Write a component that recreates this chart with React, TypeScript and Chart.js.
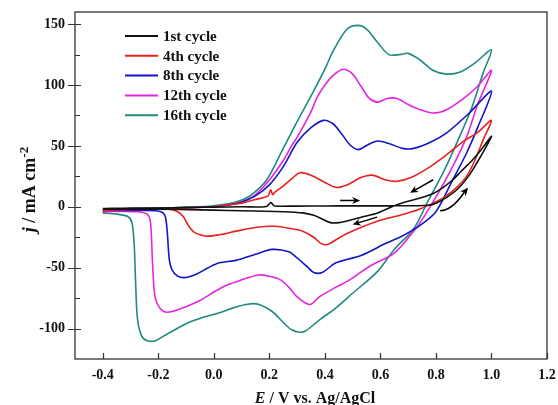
import { useEffect, useRef } from "react";
import { Chart, registerables } from "chart.js";
Chart.register(...registerables);

// Potential E (V vs. Ag/AgCl) and current density j (mA cm^-2); forward scan then reverse scan
const cycle1E = [-0.40, -0.30, -0.20, -0.10, 0.00, 0.10, 0.19, 0.205, 0.212, 0.22, 0.30, 0.40, 0.50, 0.60, 0.70, 0.77, 0.80, 0.84, 0.88, 0.92, 0.95, 0.98, 1.00,
  0.96, 0.93, 0.89, 0.86, 0.82, 0.79, 0.74, 0.69, 0.645, 0.59, 0.54, 0.49, 0.45, 0.42, 0.39, 0.36, 0.32, 0.25, 0.15, 0.05, -0.05, -0.20, -0.40];
const cycle1J = [-1.5, -1, -1, -0.5, -0.3, 0, 0.3, 3.5, 2, 0.6, 0.6, 0.7, 0.8, 0.8, 0.9, 1.3, 3, 8, 15, 26, 37, 49, 58,
  46, 38, 29, 22, 15, 11, 7, 4, 0.5, -5, -8, -11, -13, -13, -10, -7, -5, -4, -3.5, -3, -2.5, -2, -2];

const cycle4E = [-0.40, -0.30, -0.20, -0.10, 0.00, 0.05, 0.10, 0.15, 0.195, 0.205, 0.212, 0.22, 0.25, 0.28, 0.31, 0.35, 0.40, 0.44, 0.48, 0.53, 0.57, 0.62, 0.66, 0.71, 0.78, 0.84, 0.90, 0.95, 1.00,
  0.97, 0.94, 0.91, 0.87, 0.83, 0.79, 0.74, 0.67, 0.60, 0.54, 0.48, 0.44, 0.41, 0.385, 0.36, 0.32, 0.28, 0.22, 0.15, 0.08, 0.02, -0.03, -0.07, -0.09, -0.11, -0.13, -0.16, -0.25, -0.40];
const cycle4J = [-3, -2, -1.5, -1, 0, 1.5, 3, 6, 9, 14, 10, 12, 17, 23, 28, 26, 20, 16, 18, 24, 26, 22, 21, 24, 33, 43, 54, 61, 71,
  55, 38, 25, 15, 8, 3, -2, -7, -11, -16, -22, -27, -31, -30, -25, -20, -18, -16, -17, -20, -23, -24, -21, -16, -8, -4, -2, -2, -3];

const cycle8E = [-0.40, -0.30, -0.15, 0.00, 0.05, 0.10, 0.15, 0.20, 0.25, 0.30, 0.35, 0.395, 0.43, 0.46, 0.49, 0.52, 0.555, 0.59, 0.63, 0.68, 0.72, 0.78, 0.84, 0.92, 1.00,
  0.95, 0.91, 0.86, 0.80, 0.75, 0.71, 0.67, 0.62, 0.53, 0.44, 0.39, 0.36, 0.34, 0.30, 0.27, 0.21, 0.15, 0.08, 0.02, -0.02, -0.06, -0.10, -0.13, -0.15, -0.16, -0.168, -0.175, -0.19, -0.25, -0.40];
const cycle8J = [-3, -2, -1, 0, 1.5, 4, 9, 18, 33, 53, 65, 71, 68, 60, 51, 47, 51, 54, 52, 48, 48, 53, 61, 77, 95,
  65, 44, 22, -4, -14, -20, -25, -30, -40, -46, -54, -54, -50, -42, -37, -35, -39, -44, -46, -50, -55, -58, -57, -52, -44, -20, -8, -4, -3, -3];

const cycle12E = [-0.40, -0.30, -0.15, 0.00, 0.05, 0.10, 0.15, 0.20, 0.25, 0.28, 0.30, 0.35, 0.37, 0.40, 0.43, 0.466, 0.50, 0.53, 0.56, 0.59, 0.625, 0.66, 0.70, 0.74, 0.79, 0.84, 0.90, 0.95, 1.00,
  0.95, 0.91, 0.86, 0.81, 0.76, 0.72, 0.65, 0.56, 0.49, 0.44, 0.38, 0.35, 0.33, 0.30, 0.27, 0.24, 0.20, 0.16, 0.10, 0.05, 0.00, -0.05, -0.10, -0.15, -0.18, -0.205, -0.215, -0.222, -0.228, -0.24, -0.28, -0.40];
const cycle12J = [-4, -2, -1, 0, 1.5, 4, 10, 22, 38, 50, 57, 78, 89, 100, 108, 113, 109, 99, 89, 86, 89, 89, 84, 80, 77, 80, 89, 99, 112,
  84, 57, 33, 12, -7, -20, -38, -49, -60, -66, -74, -80, -79, -74, -66, -60, -57, -56, -60, -64, -70, -77, -82, -86, -86, -79, -68, -40, -13, -6, -4, -4];

const cycle16E = [-0.40, -0.35, -0.20, -0.05, 0.02, 0.08, 0.13, 0.19, 0.25, 0.30, 0.35, 0.40, 0.43, 0.48, 0.52, 0.55, 0.59, 0.63, 0.67, 0.70, 0.74, 0.79, 0.84, 0.89, 0.94, 1.00,
  0.97, 0.93, 0.88, 0.83, 0.77, 0.72, 0.65, 0.59, 0.50, 0.44, 0.38, 0.33, 0.31, 0.28, 0.25, 0.21, 0.16, 0.12, 0.07, 0.02, -0.04, -0.10, -0.14, -0.18, -0.21, -0.24, -0.26, -0.275, -0.282, -0.287, -0.295, -0.31, -0.35, -0.40];
const cycle16J = [-4, -2, -1, 0, 1.5, 4, 9, 22, 48, 70, 91, 113, 128, 146, 149, 146, 135, 125, 125, 126, 121, 112, 109, 111, 118, 129,
  110, 82, 55, 30, 4, -18, -35, -53, -71, -83, -93, -102, -103, -101, -95, -86, -80, -80, -83, -87, -91, -96, -101, -106, -110, -110, -106, -92, -60, -30, -13, -8, -6, -5];

const cycleLabels = ["1st cycle", "4th cycle", "8th cycle", "12th cycle", "16th cycle"];
const cycleColors = ["#111111", "#e8211d", "#1515c8", "#e526e0", "#1f8a80"];
const cycleE = [cycle1E, cycle4E, cycle8E, cycle12E, cycle16E];
const cycleJ = [cycle1J, cycle4J, cycle8J, cycle12J, cycle16J];

const xTickValues = [-0.4, -0.2, 0.0, 0.2, 0.4, 0.6, 0.8, 1.0, 1.2];
const yTickValues = [-100, -50, 0, 50, 100, 150];
const yMinorTickValues = [-75, -25, 25, 75, 125];

// scan-direction arrows (E, j): tail ... head
const arrow1E = [0.455, 0.527];
const arrow1J = [5.2, 5.2];
const arrow2E = [0.588, 0.50];
const arrow2J = [-8.5, -14.5];
const arrow3E = [0.79, 0.707];
const arrow3J = [22.2, 11.5];
const arrow4E = [0.815, 0.862, 0.916];
const arrow4J = [-3.3, 1.6, 15.6];
const arrowsE = [arrow1E, arrow2E, arrow3E, arrow4E];
const arrowsJ = [arrow1J, arrow2J, arrow3J, arrow4J];

const SERIF = "'Liberation Serif', 'Times New Roman', serif";

const noPad = (s: any) => {
  s.paddingTop = 0;
  s.paddingBottom = 0;
  s.paddingLeft = 0;
  s.paddingRight = 0;
};

const decorPlugin = {
  id: "decor",
  afterDraw(chart: any) {
    const { ctx, chartArea: a, scales } = chart;
    const x = scales.x;
    const y = scales.y;
    ctx.save();
    // frame
    ctx.strokeStyle = "#333";
    ctx.lineWidth = 1.3;
    ctx.strokeRect(a.left, a.top, a.right - a.left, a.bottom - a.top);
    // ticks
    ctx.lineWidth = 1.2;
    ctx.beginPath();
    for (const v of yTickValues) {
      const py = Math.round(y.getPixelForValue(v)) + 0.5;
      ctx.moveTo(a.left - 7, py);
      ctx.lineTo(a.left + 6, py);
    }
    for (const v of yMinorTickValues) {
      const py = Math.round(y.getPixelForValue(v)) + 0.5;
      ctx.moveTo(a.left, py);
      ctx.lineTo(a.left + 5, py);
    }
    for (const v of xTickValues) {
      const px = Math.round(x.getPixelForValue(v)) + 0.5;
      ctx.moveTo(px, a.bottom);
      ctx.lineTo(px, a.bottom - 6);
    }
    ctx.stroke();

    // arrows
    ctx.strokeStyle = "#000";
    ctx.fillStyle = "#000";
    ctx.lineWidth = 1.5;
    for (let i = 0; i < arrowsE.length; i++) {
      const pts = arrowsE[i].map((e, k) => [x.getPixelForValue(e), y.getPixelForValue(arrowsJ[i][k])]);
      const head = pts[pts.length - 1];
      const prev = pts[pts.length - 2];
      const ang = Math.atan2(head[1] - prev[1], head[0] - prev[0]);
      const hl = 8, hw = 3.6;
      const bx = head[0] - Math.cos(ang) * hl * 0.7;
      const by = head[1] - Math.sin(ang) * hl * 0.7;
      ctx.beginPath();
      ctx.moveTo(pts[0][0], pts[0][1]);
      if (pts.length === 3) {
        ctx.quadraticCurveTo(2 * pts[1][0] - (pts[0][0] + pts[2][0]) / 2, 2 * pts[1][1] - (pts[0][1] + pts[2][1]) / 2, bx, by);
      } else {
        ctx.lineTo(bx, by);
      }
      ctx.stroke();
      ctx.beginPath();
      ctx.moveTo(head[0], head[1]);
      ctx.lineTo(head[0] - Math.cos(ang) * hl + Math.sin(ang) * hw, head[1] - Math.sin(ang) * hl - Math.cos(ang) * hw);
      ctx.lineTo(head[0] - Math.cos(ang) * hl * 0.7, head[1] - Math.sin(ang) * hl * 0.7);
      ctx.lineTo(head[0] - Math.cos(ang) * hl - Math.sin(ang) * hw, head[1] - Math.sin(ang) * hl + Math.cos(ang) * hw);
      ctx.closePath();
      ctx.fill();
    }

    // legend
    ctx.font = `bold 15px ${SERIF}`;
    ctx.textBaseline = "middle";
    ctx.textAlign = "left";
    chart.data.datasets.forEach((ds: any, i: number) => {
      const ly = a.top + 24 + i * 19.8;
      ctx.strokeStyle = ds.borderColor;
      ctx.lineWidth = 2;
      ctx.beginPath();
      ctx.moveTo(a.left + 50, ly);
      ctx.lineTo(a.left + 83, ly);
      ctx.stroke();
      ctx.fillStyle = "#111";
      ctx.fillText(ds.label, a.left + 88, ly + 1);
    });

    // x title
    ctx.fillStyle = "#111";
    ctx.textBaseline = "alphabetic";
    const xParts: [string, string][] = [["E", `italic bold 16px ${SERIF}`], [" / V vs. Ag/AgCl", `bold 16px ${SERIF}`]];
    let tw = 0;
    for (const [t, f] of xParts) { ctx.font = f; tw += ctx.measureText(t).width; }
    let cx = (a.left + a.right) / 2 + 4 - tw / 2;
    for (const [t, f] of xParts) { ctx.font = f; ctx.fillText(t, cx, 403); cx += ctx.measureText(t).width; }

    // y title (rotated)
    ctx.save();
    ctx.translate(35, (a.top + a.bottom) / 2 + 4);
    ctx.rotate(-Math.PI / 2);
    const yParts: [string, string, number][] = [
      ["j", `italic bold 18px ${SERIF}`, 0],
      [" / mA cm", `bold 18px ${SERIF}`, 0],
      ["-2", `bold 13px ${SERIF}`, -7],
    ];
    tw = 0;
    for (const [t, f] of yParts) { ctx.font = f; tw += ctx.measureText(t).width; }
    let cy = -tw / 2;
    for (const [t, f, off] of yParts) { ctx.font = f; ctx.fillText(t, cy, off); cy += ctx.measureText(t).width; }
    ctx.restore();

    ctx.restore();
  },
};

export default function App() {
  const ref = useRef<HTMLCanvasElement | null>(null);
  useEffect(() => {
    if (!ref.current) return;
    const chart = new Chart(ref.current, {
      type: "scatter",
      data: {
        datasets: cycleLabels.map((label, i) => ({
          label,
          data: cycleE[i].map((e, k) => ({ x: e, y: cycleJ[i][k] })),
          borderColor: cycleColors[i],
          backgroundColor: cycleColors[i],
          showLine: true,
          pointRadius: 0,
          borderWidth: 1.6,
          tension: 0.3,
          borderJoinStyle: "round",
          fill: false,
        })),
      },
      options: {
        responsive: false,
        animation: false,
        layout: { padding: { top: 12, right: 11, left: 0, bottom: 0 } },
        plugins: { legend: { display: false }, tooltip: { enabled: false } },
        scales: {
          x: {
            type: "linear",
            min: -0.5,
            max: 1.2,
            afterBuildTicks: (s: any) => { s.ticks = xTickValues.map((v) => ({ value: v })); },
            afterFit: (s: any) => { s.height = 46; noPad(s); },
            grid: { display: false, drawTicks: false },
            border: { display: false },
            ticks: {
              padding: 8,
              color: "#111",
              font: { family: SERIF, size: 14, weight: "bold" },
              maxRotation: 0,
              autoSkip: false,
              callback: (v: any) => Number(v).toFixed(1),
            },
          },
          y: {
            type: "linear",
            min: -125,
            max: 160,
            afterBuildTicks: (s: any) => { s.ticks = yTickValues.map((v) => ({ value: v })); },
            afterFit: (s: any) => { s.width = 75; noPad(s); },
            grid: { display: false, drawTicks: false },
            border: { display: false },
            ticks: {
              padding: 10,
              color: "#111",
              font: { family: SERIF, size: 14, weight: "bold" },
              autoSkip: false,
              callback: (v: any) => String(v),
            },
          },
        },
      },
      plugins: [decorPlugin],
    } as any);
    return () => chart.destroy();
  }, []);
  return (
    <div style={{ position: "absolute", left: 0, top: 0, width: 558, height: 405, background: "#fff" }}>
      <canvas ref={ref} width={558} height={405} style={{ display: "block" }} />
    </div>
  );
}
